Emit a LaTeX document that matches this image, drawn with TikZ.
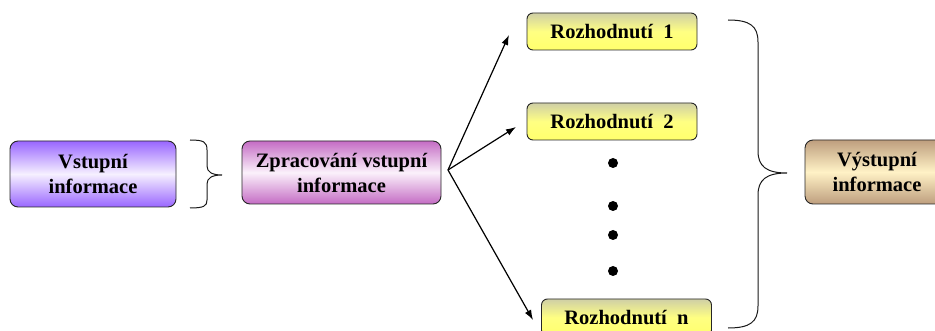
\documentclass[tikz,border=0pt]{standalone}
\usepackage{fontspec}
\setmainfont{Liberation Serif}
\usetikzlibrary{arrows.meta}
\definecolor{lilac}{HTML}{9966FF}
\definecolor{lilaclight}{HTML}{F6F0FF}
\definecolor{orchid}{HTML}{C46CC4}
\definecolor{orchidlight}{HTML}{FBF1FB}
\definecolor{khaki}{HTML}{CFCFA6}
\definecolor{lemon}{HTML}{FFFF6C}
\definecolor{tan}{HTML}{BE9E7E}
\definecolor{cream}{HTML}{FFF2C6}
\begin{document}
\begin{tikzpicture}[x=1pt,y=-1pt,
  box/.style={draw=black!85, line width=0.9pt, rounded corners=8pt, align=center,
    inner sep=0pt, font=\fontsize{20.5}{25}\selectfont\bfseries},
  inbox/.style={box, top color=lilac, bottom color=lilac, middle color=lilaclight},
  procbox/.style={box, top color=orchid, bottom color=orchid, middle color=orchidlight},
  decbox/.style={box, minimum width=170pt, minimum height=37pt, rounded corners=6pt,
    top color=khaki, bottom color=lemon, middle color=lemon!85!white},
  outbox/.style={box, top color=tan, bottom color=tan, middle color=cream},
  arr/.style={line width=1.2pt, -{Latex[length=10pt,width=7pt]}},
  bracket/.style={line width=1pt, black!90},
  dotmark/.style={circle, fill=black, inner sep=0pt, minimum size=10pt}]
\useasboundingbox (0,0) rectangle (935,331);

% boxes
\node[inbox, minimum width=166pt, minimum height=66pt] (vin) at (93,174) {Vstupní\\informace};
\node[procbox, minimum width=199pt, minimum height=63pt] (zpr) at (341.5,172.5) {Zpracování vstupní\\informace};
\node[decbox] (r1) at (612,31.5) {Rozhodnutí\ \ 1};
\node[decbox] (r2) at (612,121.5) {Rozhodnutí\ \ 2};
\node[decbox] (rn) at (626.5,317.5) {Rozhodnutí\ \ n};
\node[outbox, minimum width=144pt, minimum height=64pt] (vout) at (877,172) {Výstupní\\informace};

% ellipsis between the decisions
\node[dotmark] (d1) at (613,163) {};
\node[dotmark] (d2) at (613,206) {};
\node[dotmark] (d3) at (613,235) {};
\node[dotmark] (d4) at (613,271) {};

% fan of arrows
\coordinate (fan) at (448,170);
\coordinate (t1) at (509,35);
\coordinate (t2) at (516,127);
\coordinate (tn) at (533,320);
\draw[arr] (fan) -- (t1);
\draw[arr] (fan) -- (t2);
\draw[arr] (fan) -- (tn);

% small brace between input and processing
\draw[bracket] (190,140) .. controls (204,140) and (207,142) .. (207,150) -- (207,166)
  .. controls (207,172) and (212,175) .. (222,175)
  .. controls (212,175) and (207,178) .. (207,184) -- (207,200)
  .. controls (207,206) and (204,208) .. (190,208);

% large brace gathering the decisions
\draw[bracket] (728,20) .. controls (750,20) and (758,26) .. (758,42) -- (758,151)
  .. controls (758,166) and (766,173) .. (787,173)
  .. controls (766,173) and (758,180) .. (758,195) -- (758,306)
  .. controls (758,322) and (750,328) .. (728,328);
\end{tikzpicture}
\end{document}
